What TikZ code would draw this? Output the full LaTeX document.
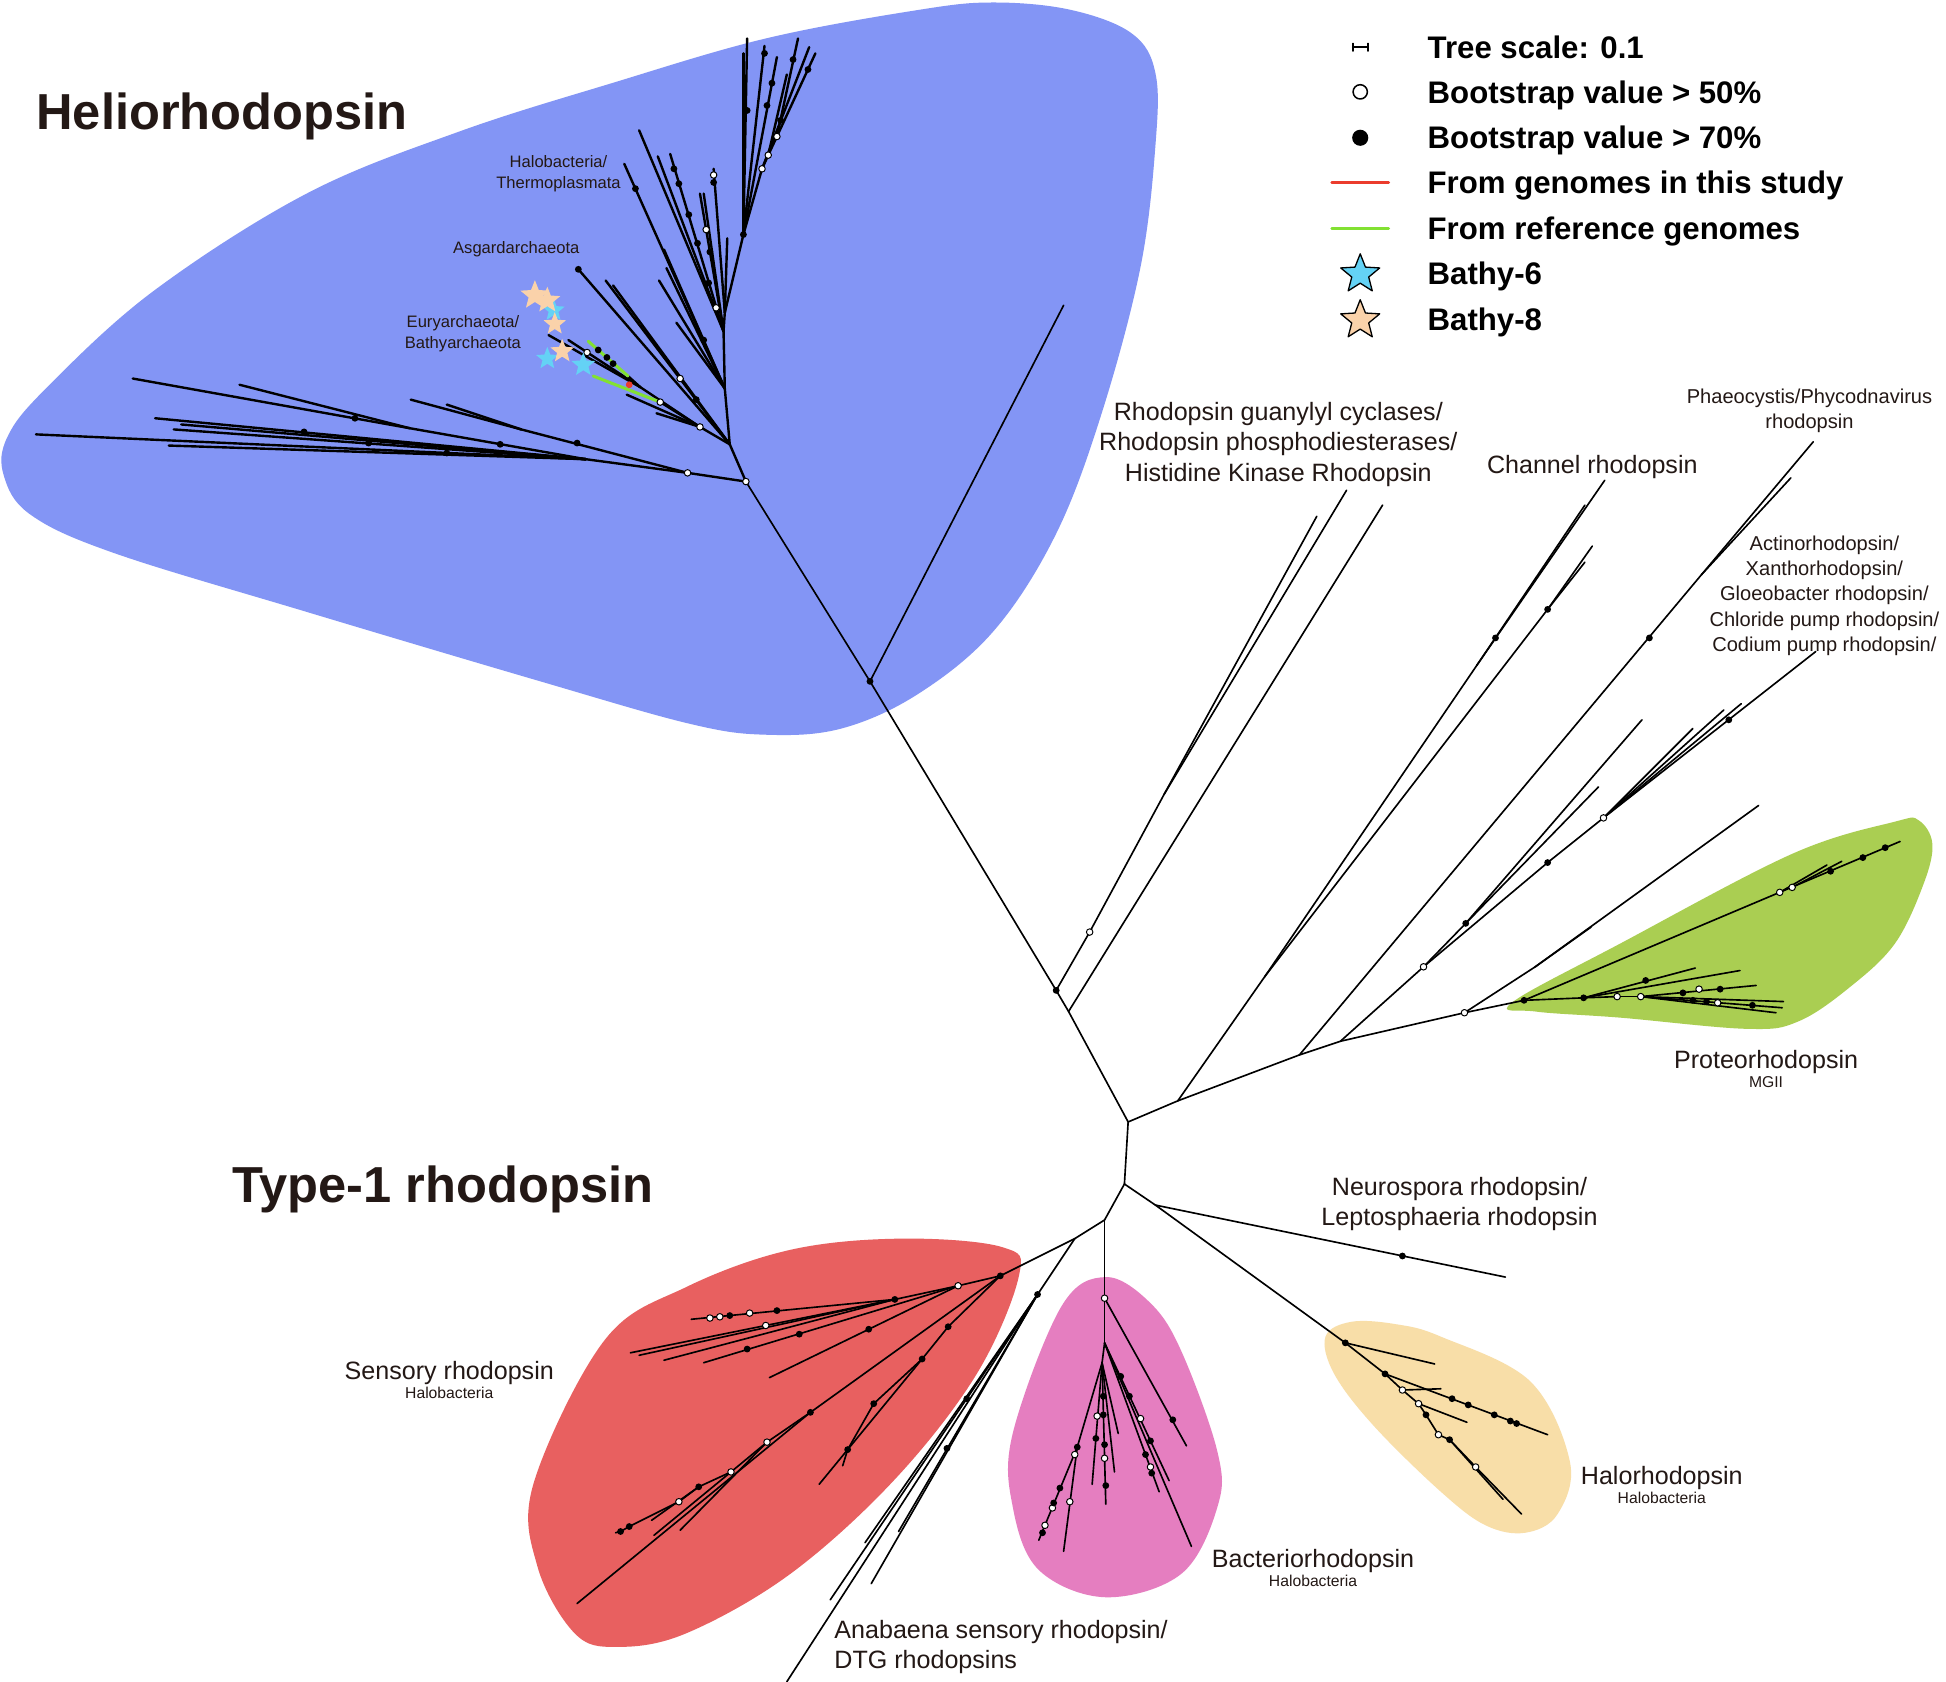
\documentclass[tikz,border=0pt]{standalone}
\usepackage{fontspec}
\setmainfont{Liberation Sans}
\usepackage{xcolor}
\usepackage{tikz}
\usetikzlibrary{shapes.geometric}
\definecolor{helioblue}{RGB}{131,149,245}
\definecolor{protogreen}{RGB}{170,206,82}
\definecolor{sensred}{RGB}{232,96,96}
\definecolor{bactpink}{RGB}{229,126,192}
\definecolor{halotan}{RGB}{248,222,168}
\definecolor{txtdark}{RGB}{35,24,21}
\definecolor{refgreen}{RGB}{130,225,50}
\definecolor{studyred}{RGB}{235,60,45}
\definecolor{bathysix}{RGB}{100,210,245}
\definecolor{bathyeight}{RGB}{250,210,170}
\tikzset{
  br/.style={line width=0.75pt},
  hbr/.style={line width=1.1pt},
  refbr/.style={line width=1.4pt, draw=refgreen},
  dotf/.style={circle, fill=black, inner sep=0pt, minimum size=1.1mm},
  doto/.style={circle, draw=black, fill=white, line width=0.45pt, inner sep=0pt, minimum size=1.05mm},
  dotr/.style={circle, fill=studyred, inner sep=0pt, minimum size=1.1mm},
  bstar/.style={star, star points=5, star point ratio=2.3, inner sep=0pt},
  cladetitle/.style={font=\fontsize{23.2}{27}\selectfont\bfseries, text=txtdark, anchor=base west, inner sep=0pt},
  lab/.style={font=\fontsize{11.5}{13.9}\selectfont, text=txtdark, align=center, inner sep=0pt},
  smlab/.style={font=\fontsize{9.2}{11.6}\selectfont, text=txtdark, align=center, inner sep=0pt},
  tinylab/.style={font=\fontsize{7.6}{9.4}\selectfont, text=txtdark, align=center, inner sep=0pt},
  sublab/.style={font=\fontsize{7.2}{8.6}\selectfont, text=txtdark, inner sep=0pt},
  keytext/.style={font=\fontsize{14.3}{16}\selectfont\bfseries, anchor=base west, inner sep=0pt},
  every picture/.style={line cap=round, line join=round}
}

\begin{document}
\begin{tikzpicture}[x=0.2mm, y=-0.2mm]
  \useasboundingbox (0,0) rectangle (1568,1355);
  \fill[white] (0,0) rectangle (1568,1355);

  % clade shading
  \fill[helioblue] plot[smooth cycle, tension=0.6] coordinates {(863,8) (912,27) (931,59) (931,117) (919,215) (888,332) (851,430) (801,508) (740,559) (678,587) (617,592) (555,583) (432,548) (247,493) (93,446) (25,415) (3,383) (6,352) (37,313) (123,235) (247,156) (370,106) (493,67) (617,31) (740,8) (801,2)};
  \fill[protogreen] plot[smooth cycle, tension=0.6] coordinates {(1218,808) (1306,760) (1444,688) (1527,662) (1546,661) (1557,680) (1550,712) (1527,760) (1491,795) (1449,823) (1408,829) (1306,820) (1237,815)};
  \fill[sensred] plot[smooth cycle, tension=0.6] coordinates {(821,1028) (808,1005) (727,998) (637,1007) (553,1037) (487,1080) (430,1195) (433,1262) (463,1316) (497,1327) (553,1316) (637,1268) (721,1192) (787,1107)};
  \fill[bactpink] plot[smooth cycle, tension=0.6] coordinates {(891,1029) (855,1053) (816,1155) (816,1214) (837,1265) (891,1287) (952,1268) (981,1214) (981,1170) (952,1089) (927,1050)};
  \fill[halotan] plot[smooth cycle, tension=0.6] coordinates {(1068,1077) (1089,1065) (1125,1067) (1161,1077) (1233,1113) (1265,1178) (1255,1220) (1229,1235) (1197,1229) (1161,1202) (1107,1149) (1075,1107)};

  % backbone and junctions
  \foreach \n/\x/\y in {h0/601/388, ha/701/549, hx/857/246, bb/851/798, bb2/861/815, cc/909/904, cc2/906/954, dd/890/983, ee/866/998,
      p1/949/887, p2/1047/850, p3/1080/839, p4/1180/816, p5/1228/806}
    \coordinate (\n) at (\x,\y);
  % heliorhodopsin
  \foreach \n/\x/\y in {hn/554/381, hm/472/370, l1/29/350, l2/107/305, l3/125/337, l4/140/346, l5/136/359, l6/146/342, lj/330/345, l7/193/310,
      hq/331/322, hqj/420/346, hq2/360/326, h1/588/358, e0/564/344, e1/516/312, e2/506/303, e3/532/324, et1/442/270, et2/458/274,
      eg1/474/275, eg2/478/303, et3/505/318, et4/529/333, ag/466/217, ag2/488/226, ag3/494/230,
      hb/584/313, hc/583/267, hd/584/252, t1/599/189, t2/614/136, t3/619/125, t4/626/110,
      u1/503/132, u2/535/201, u3/531/226, u4/537/216, u5/545/260, v1/515/105, v2/530/126, v3/540/124, v4/564/156, v5/567/156,
      w1/575/136, w2/586/192, x1/602/31, x2/599/43, x3/616/37, x4/626/46, y1/643/31, y2/657/43, y3/634/60, y4/652/38}
    \coordinate (\n) at (\x,\y);
  % type-1 clades
  \foreach \n/\x/\y in {g1/878/751, g2/938/640, gt1/1061/416, gt2/1085/395, gt3/1114/407,
      s1/1019/787, caj/1190/536, ca/1293/387, ca2/1277/407, cbj/1247/491, cb/1283/440, cb2/1277/453,
      phj/1371/463, ph/1461/356, ph2/1443/385,
      q1/1147/779, q2/1181/744, q3/1247/695, q4/1292/659, qa/1463/525, qb/1389/572, qc/1403/567, qd/1364/587, qe/1323/580, qf/1288/634,
      p4j/1237/779, pt1/1417/649, pt2/1282/747,
      pr1/1531/678, pr2/1436/812, pr6/1276/804, pr7/1303/803, pr8/1322/803, pra/1366/780, prb/1402/782, prc/1415/794,
      prd/1434/719, pre/1444/715, prf/1472/697, prg/1484/694, prh/1431/816, pri/1437/807,
      n0/931/971, nt/1213/1029,
      ha0/1084/1082, hs1/1156/1099, ha1/1116/1107, ha2/1130/1120, hs2/1161/1119, hl1/1247/1156, ha3/1143/1131, hs3/1182/1146,
      ha4/1149/1140, ha5/1159/1156, ha6/1168/1160, ha7/1189/1182, hl2/1226/1220, hl3/1211/1208,
      pk0/890/1046, pk1/890/1082, pk2/888/1098, pk3/868/1166, pkt1/956/1165, pkt2/942/1193, pkt2b/934/1202, pkt3/960/1246,
      pkt4/837/1241, pkt5/857/1250, pkt6/880/1196, pkt7/891/1212, pkt8/898/1186, pkt9/901/1155,
      an0/836/1043, an1/634/1355, an2/669/1289, an3/697/1243, an4/724/1234, an5/702/1276,
      r0/806/1028, r1/772/1036, r2/721/1047, rt1/557/1063, rt2/508/1090, rt3/515/1092, rt4/535/1096, rt6/567/1098, rt7/620/1110,
      r3/653/1138, rt8/465/1292, r4/618/1162, r5/589/1186, r6/563/1198, r7/547/1210, r8/507/1230, r9/500/1234, rt9/496/1235,
      rt10/548/1233, rt11/527/1237, rt12/525/1225, rs1/764/1069, rs2/743/1095, rt13/660/1196, rs3/704/1131, rs4/683/1168, rt14/679/1181}
    \coordinate (\n) at (\x,\y);

  % heliorhodopsin branches
  \foreach \a/\b in {h0/hn, hn/hm, hm/l1, hm/lj, lj/l2, lj/l7, hm/l3, hm/l4, hm/l5, hm/l6, hn/hqj, hqj/hq, hqj/hq2,
      h0/h1, h1/e0, e0/e1, e1/e2, e1/et1, e1/et2, e0/e3, e0/et3, e0/et4, h1/ag, h1/ag2, h1/ag3,
      h1/hb, hb/hc, hc/hd, hd/t1, t1/t2, t2/t3, t3/t4, hb/u1, hb/u2, hb/u3, hb/u4, hb/u5,
      hc/v1, hc/v2, hc/v3, hc/v4, hc/v5, hd/w1, hd/w2, t1/x1, t1/x2, t1/x3, t1/x4, t4/y1, t4/y2, t3/y3, t2/y4}
    \draw[hbr] (\a) -- (\b);
  \draw[refbr] (e2) -- (eg1);
  \draw[refbr] (e3) -- (eg2);

  % backbone and type-1 branches
  \foreach \a/\b in {h0/ha, ha/hx, ha/bb, bb/bb2, bb2/cc, cc/cc2, cc2/dd, dd/ee, dd/pk0, cc2/n0, n0/ha0, n0/nt,
      cc/p1, p1/p2, p2/p3, p3/p4, p4/p5,
      bb/g1, g1/g2, g2/gt1, g2/gt2, bb2/gt3,
      p1/s1, s1/caj, caj/ca, caj/ca2, s1/cbj, cbj/cb, cbj/cb2, p2/phj, phj/ph, phj/ph2,
      p3/q1, q1/q3, q3/q4, q4/qa, q4/qb, q4/qc, q4/qd, q1/q2, q2/qe, q2/qf, p4/p4j, p4j/pt1, p4j/pt2,
      p5/pr1, p5/pr6, pr6/pr7, pr7/pr8, pr8/pr2, pr6/pra, pr6/prb, pr8/prc, prd/prf, pre/prg, pr8/prh, pr8/pri,
      ha0/hs1, ha0/ha1, ha1/ha2, ha2/ha3, ha3/ha4, ha4/ha5, ha5/ha6, ha6/ha7, ha7/hl2, ha1/hl1, ha2/hs2, ha3/hs3, ha6/hl3,
      pk0/pk1, pk1/pk2, pk0/pkt1, pk1/pkt2, pk1/pkt2b, pk1/pkt3, pk2/pk3, pk3/pkt4, pk3/pkt5, pk2/pkt6, pk2/pkt7, pk2/pkt8, pk2/pkt9,
      ee/an0, an0/an1, an0/an2, an0/an3, an0/an4, an0/an5,
      ee/r0, r0/r1, r1/r2, r2/rt1, r2/rt2, r2/rt3, r2/rt4, r1/rt6, r1/rt7, r0/r3, r3/rt8, r3/r4, r4/r5, r5/r6, r6/r7, r7/r8, r8/r9, r9/rt9,
      r4/rt10, r5/rt11, r6/rt12, r0/rs1, rs1/rs2, rs2/rt13, rs2/rs3, rs3/rs4, rs4/rt14}
    \draw[br] (\a) -- (\b);

  % bootstrap marks
  \foreach \p [count=\i] in {h0, hn, e0, e3, t2, t3, t4, g1, p4, q1, q4, prd, pre, pr7, pr8, r1, r4, r5, r7, pk0, ha2, ha3, ha5, ha7}
    \node[doto] (bo\i) at (\p) {};
  \foreach \x/\y [count=\i] in {473/284, 548/305, 577/248, 569/185, 575/141, 1384/808, 1369/797, 604/1058, 580/1061, 572/1062, 617/1068,
      919/1143, 927/1182, 866/1172, 848/1215, 842/1229, 862/1210, 884/1141, 890/1175}
    \node[doto] (bp\i) at (\x,\y) {};
  \foreach \p [count=\i] in {ha, bb, t1, q2, q3, p5, pr6, ha0, ha1, ha4, ha6, an0, r0, r2, r3, r6, r8, r9, rs1, rs2, rs3, rs4, cbj, ag, pk3}
    \node[dotf] (bf\i) at (\p) {};
  \foreach \x/\y [count=\i] in {512/152, 567/274, 571/228, 562/196, 555/173, 547/148, 543/136, 572/203, 575/147, 602/89, 618/85, 622/67,
      616/43, 639/48, 651/56, 629/97, 561/322, 482/282, 489/288, 494/293, 360/365, 403/358, 286/337, 245/348, 297/357, 465/357,
      1205/514, 1329/514, 1393/580, 1326/790, 1356/800, 1386/797, 1364/806, 1375/807, 1412/810, 1475/702, 1501/691, 1519/683,
      1130/1012, 1170/1127, 1183/1132, 1204/1140, 1217/1145, 1222/1147,
      945/1144, 903/1109, 910/1125, 927/1161, 923/1172, 928/1187, 854/1199, 849/1211, 840/1235, 883/1159, 889/1125, 889/1140, 890/1164, 891/1197,
      779/1127, 763/1167, 626/1056, 588/1060, 644/1075, 602/1087, 700/1071}
    \node[dotf] (bg\i) at (\x,\y) {};
  \node[dotr] (sr) at (507,310) {};

  % Bathy genomes
  \node[bstar, fill=bathysix, minimum size=3.8mm] (s6a) at (446,250) {};
  \node[bstar, fill=bathyeight, minimum size=4.9mm] (s8a) at (431,238) {};
  \node[bstar, fill=bathyeight, minimum size=4.4mm] (s8b) at (441,242) {};
  \node[bstar, fill=bathyeight, minimum size=3.8mm] (s8c) at (447,261) {};
  \node[bstar, fill=bathysix, minimum size=3.8mm] (s6b) at (441,289) {};
  \node[bstar, fill=bathyeight, minimum size=4.0mm] (s8d) at (453,283) {};
  \node[bstar, fill=bathysix, minimum size=4.0mm] (s6c) at (470,294) {};

  % clade labels
  \node[cladetitle] (thelio) at (29,104) {Heliorhodopsin};
  \node[cladetitle] (ttype) at (187,969) {Type-1 rhodopsin};
  \node[tinylab] (lhalo) at (450,140) {Halobacteria/\\Thermoplasmata};
  \node[tinylab] (lasg) at (416,201) {Asgardarchaeota};
  \node[tinylab] (leury) at (373,269) {Euryarchaeota/\\Bathyarchaeota};
  \node[lab] (lgc) at (1030,358) {Rhodopsin guanylyl cyclases/\\Rhodopsin phosphodiesterases/\\Histidine Kinase Rhodopsin};
  \node[lab] (lchan) at (1283,376) {Channel rhodopsin};
  \node[smlab] (lphae) at (1458,331) {Phaeocystis/Phycodnavirus\\rhodopsin};
  \node[smlab] (lact) at (1470,480) {Actinorhodopsin/\\Xanthorhodopsin/\\Gloeobacter rhodopsin/\\Chloride pump rhodopsin/\\Codium pump rhodopsin/};
  \node[lab] (lprot) at (1423,856) {Proteorhodopsin};
  \node[sublab] (lmg) at (1423,872) {MGII};
  \node[lab] (lneu) at (1176,970) {Neurospora rhodopsin/\\Leptosphaeria rhodopsin};
  \node[lab] (lsens) at (362,1106) {Sensory rhodopsin};
  \node[sublab] (lsensh) at (362,1122) {Halobacteria};
  \node[lab] (lhr) at (1339,1191) {Halorhodopsin};
  \node[sublab] (lhrh) at (1339,1207) {Halobacteria};
  \node[lab] (lbr) at (1058,1258) {Bacteriorhodopsin};
  \node[sublab] (lbrh) at (1058,1274) {Halobacteria};
  \node[lab, align=left, anchor=west] (lana) at (672,1327) {Anabaena sensory rhodopsin/\\DTG rhodopsins};

  % legend
  \coordinate (sc1) at (1090,38);
  \coordinate (sc2) at (1102,38);
  \draw[line width=0.8pt] (sc1) -- (sc2);
  \draw[line width=0.8pt] ([yshift=-0.6mm]sc1) -- ([yshift=0.6mm]sc1);
  \draw[line width=0.8pt] ([yshift=-0.6mm]sc2) -- ([yshift=0.6mm]sc2);
  \node[circle, draw, line width=0.7pt, inner sep=0pt, minimum size=2.3mm] (kopen) at (1096,74) {};
  \node[circle, fill, inner sep=0pt, minimum size=2.6mm] (kfill) at (1096,111) {};
  \coordinate (kr1) at (1073,147);
  \coordinate (kr2) at (1119,147);
  \draw[studyred, line width=1.2pt] (kr1) -- (kr2);
  \coordinate (kg1) at (1073,184);
  \coordinate (kg2) at (1119,184);
  \draw[refgreen, line width=1.2pt] (kg1) -- (kg2);
  \node[bstar, draw, line width=0.6pt, fill=bathysix, minimum size=6.6mm] (k6) at (1096,221) {};
  \node[bstar, draw, line width=0.6pt, fill=bathyeight, minimum size=6.6mm] (k8) at (1096,258) {};
  \node[keytext] (kt1) at (1150,47) {Tree scale: 0.1};
  \node[keytext] (kt2) at (1150,83) {Bootstrap value > 50\%};
  \node[keytext] (kt3) at (1150,120) {Bootstrap value > 70\%};
  \node[keytext] (kt4) at (1150,156) {From genomes in this study};
  \node[keytext] (kt5) at (1150,193) {From reference genomes};
  \node[keytext] (kt6) at (1150,229) {Bathy-6};
  \node[keytext] (kt7) at (1150,266) {Bathy-8};
\end{tikzpicture}
\end{document}
